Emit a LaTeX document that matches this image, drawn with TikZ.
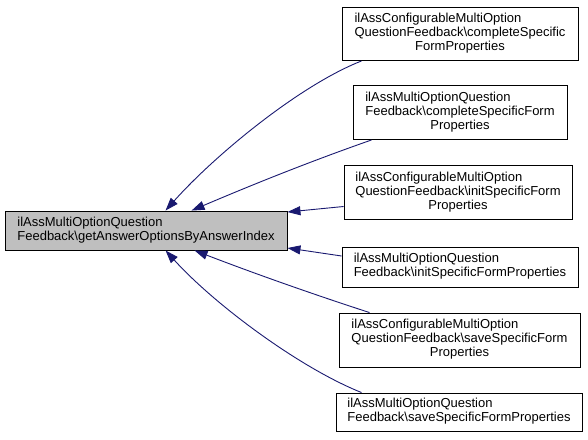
\documentclass[tikz,border=0pt]{standalone}
\usepackage{fontspec}
\setmainfont{Liberation Sans}
\usetikzlibrary{arrows.meta}
\definecolor{edgeblue}{RGB}{25,25,112}
\definecolor{mainfill}{RGB}{191,191,191}
\newcommand{\lastc}[1]{\multicolumn{1}{@{}c@{}}{#1}}
\begin{document}
\begin{tikzpicture}[x=1pt,y=-1pt,
  box/.style={draw=black,line width=0.9pt,fill=white,inner sep=0pt,
    font=\fontsize{13}{14}\selectfont},
  link/.style={draw=edgeblue,line width=0.9pt,-{Triangle[length=13pt,width=9pt]}}]
\useasboundingbox (0,0) rectangle (588,439);
\node[box,fill=mainfill,minimum width=282pt,minimum height=39pt] (m) at (146,230.5)
  {\begin{tabular}{@{}l@{}}ilAssMultiOptionQuestion\\Feedback\textbackslash getAnswerOptionsByAnswerIndex\end{tabular}};
\node[box,minimum width=236pt,minimum height=53pt] (n1) at (460,34)
  {\begin{tabular}{@{}l@{}}ilAssConfigurableMultiOption\\QuestionFeedback\textbackslash completeSpecific\\\lastc{FormProperties}\end{tabular}};
\node[box,minimum width=214pt,minimum height=54pt] (n2) at (460,112.5)
  {\begin{tabular}{@{}l@{}}ilAssMultiOptionQuestion\\Feedback\textbackslash completeSpecificForm\\\lastc{Properties}\end{tabular}};
\node[box,minimum width=228pt,minimum height=54pt] (n3) at (458,192.5)
  {\begin{tabular}{@{}l@{}}ilAssConfigurableMultiOption\\QuestionFeedback\textbackslash initSpecificForm\\\lastc{Properties}\end{tabular}};
\node[box,minimum width=236pt,minimum height=40pt] (n4) at (460,267)
  {\begin{tabular}{@{}l@{}}ilAssMultiOptionQuestion\\Feedback\textbackslash initSpecificFormProperties\end{tabular}};
\node[box,minimum width=241pt,minimum height=54pt] (n5) at (459.5,340)
  {\begin{tabular}{@{}l@{}}ilAssConfigurableMultiOption\\QuestionFeedback\textbackslash saveSpecificForm\\\lastc{Properties}\end{tabular}};
\node[box,minimum width=246pt,minimum height=38pt] (n6) at (459,412)
  {\begin{tabular}{@{}l@{}}ilAssMultiOptionQuestion\\Feedback\textbackslash saveSpecificFormProperties\end{tabular}};
\coordinate (m1) at ([xshift=161pt]m.north west);
\coordinate (m2) at ([xshift=187pt]m.north west);
\coordinate (m5) at ([xshift=190pt]m.south west);
\coordinate (m6) at ([xshift=161pt]m.south west);
\path[link] ([xshift=20pt]n1.south west) .. controls (300,85) and (215,155) .. (m1);
\path[link] ([xshift=19pt]n2.south west) .. controls (300,165) and (240,190) .. (m2);
\path[link] ([yshift=-14pt]n3.west) -- ([yshift=18.5pt]m.east);
\path[link] ([yshift=11pt]n4.west) -- ([yshift=-17.5pt]m.east);
\path[link] ([xshift=31pt]n5.north west) .. controls (300,290) and (240,268) .. (m5);
\path[link] ([xshift=26pt]n6.north west) .. controls (300,368) and (215,305) .. (m6);
\end{tikzpicture}
\end{document}
